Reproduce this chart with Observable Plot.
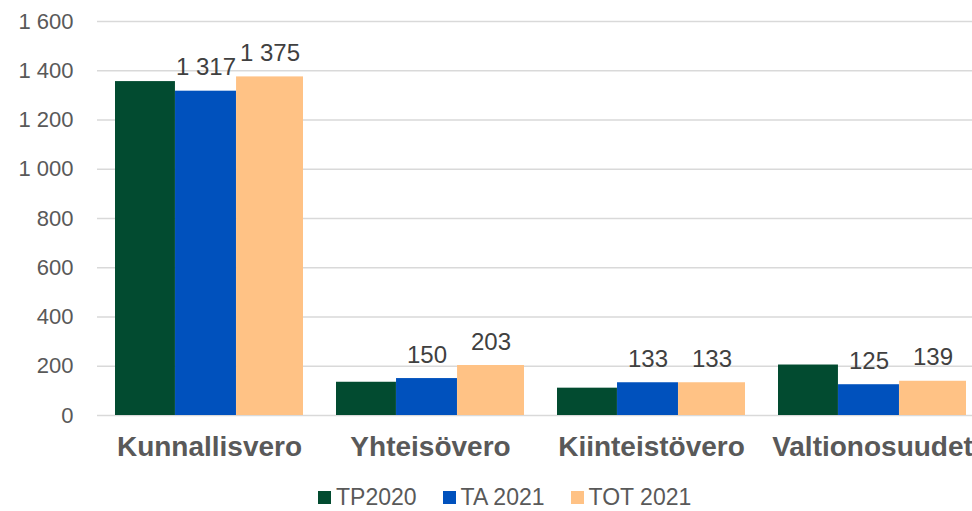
<!DOCTYPE html>
<html>
<head>
<meta charset="utf-8">
<script src="https://cdn.jsdelivr.net/npm/d3@7"></script>
<script src="https://cdn.jsdelivr.net/npm/@observablehq/plot@0.6"></script>
<style>
  html, body { margin: 0; padding: 0; background: #fff; overflow: hidden; }
  body { font-family: "Liberation Sans", Arial, sans-serif; width: 972px; height: 511px; }
  #legend { display: flex; align-items: center; margin-left: 318px; padding-top: 14px;
            font-size: 23px; color: #595959; line-height: 26px; }
  .item { display: flex; align-items: center; margin-right: 26px; }
  .sw { width: 13px; height: 13px; margin-right: 5px; }
</style>
</head>
<body>
<div id="chart"></div>
<div id="legend"></div>
<script>
// ---- data ----
const categories = ["Kunnallisvero", "Yhteisövero", "Kiinteistövero", "Valtionosuudet"];
const seriesNames = ["TP2020", "TA 2021", "TOT 2021"];
const tp2020 = [1356, 135, 111, 205];
const ta2021 = [1317, 150, 133, 125];
const tot2021 = [1375, 203, 133, 139];
const yTicks = [0, 200, 400, 600, 800, 1000, 1200, 1400, 1600];
const labeledSeries = ["TA 2021", "TOT 2021"];

// ---- styling ----
const colors = ["#024B30", "#0051BD", "#FFC285"];
const W = 972, H = 470, ML = 97, MR = -11, MT = 21, MB = 55;
const padInner = 0.15, padOuter = 0.077;
const step = (W - ML - MR) / (categories.length - padInner + 2 * padOuter);
const bw = step * (1 - padInner);
// bar width fractions within a group (green, blue, peach)
const fr = [60, 61, 67];
const frSum = fr[0] + fr[1] + fr[2];
const widths = fr.map(f => f / frSum * bw);
const starts = [0, widths[0], widths[0] + widths[1]];

const seriesValues = [tp2020, ta2021, tot2021];
const rows = seriesValues.map(vals => categories.map((c, i) => ({category: c, value: vals[i]})));

const locale = d3.formatLocale({decimal: ",", thousands: "\u00a0", grouping: [3], currency: ["", "€"]});
const fmt = locale.format(",d");

const marks = [
  Plot.gridY(yTicks, {stroke: "#d9d9d9", strokeOpacity: 1, strokeWidth: 1.3}),
];
seriesValues.forEach((vals, s) => {
  marks.push(Plot.barY(rows[s], {
    x: "category", y: "value", fill: colors[s],
    insetLeft: starts[s], insetRight: bw - starts[s] - widths[s]
  }));
});
seriesValues.forEach((vals, s) => {
  if (!labeledSeries.includes(seriesNames[s])) return;
  const center = starts[s] + widths[s] / 2 - bw / 2;
  marks.push(Plot.text(rows[s], {
    x: "category", y: "value", text: d => fmt(d.value),
    dx: center, dy: -16, lineAnchor: "bottom",
    fill: "#404040", fontSize: 24
  }));
});
marks.push(Plot.axisY(yTicks, {tickSize: 0, tickPadding: 24, tickFormat: fmt, fontSize: 22, fill: "#595959", label: null}));
marks.push(Plot.axisX({tickSize: 0, tickPadding: 21, fontSize: 28, fontWeight: "bold", fill: "#595959", label: null}));

const chart = Plot.plot({
  width: W, height: H,
  marginLeft: ML, marginRight: MR, marginTop: MT, marginBottom: MB,
  style: {fontFamily: "'Liberation Sans', Arial, sans-serif", background: "#fff", overflow: "visible"},
  x: {domain: categories, paddingInner: padInner, paddingOuter: padOuter, align: 0.5},
  y: {domain: [0, 1600]},
  marks
});
document.getElementById("chart").appendChild(chart);

const legend = document.getElementById("legend");
seriesNames.forEach((n, i) => {
  const it = document.createElement("div");
  it.className = "item";
  const sw = document.createElement("div");
  sw.className = "sw";
  sw.style.background = colors[i];
  const t = document.createElement("span");
  t.textContent = n;
  it.appendChild(sw); it.appendChild(t);
  legend.appendChild(it);
});
</script>
</body>
</html>
